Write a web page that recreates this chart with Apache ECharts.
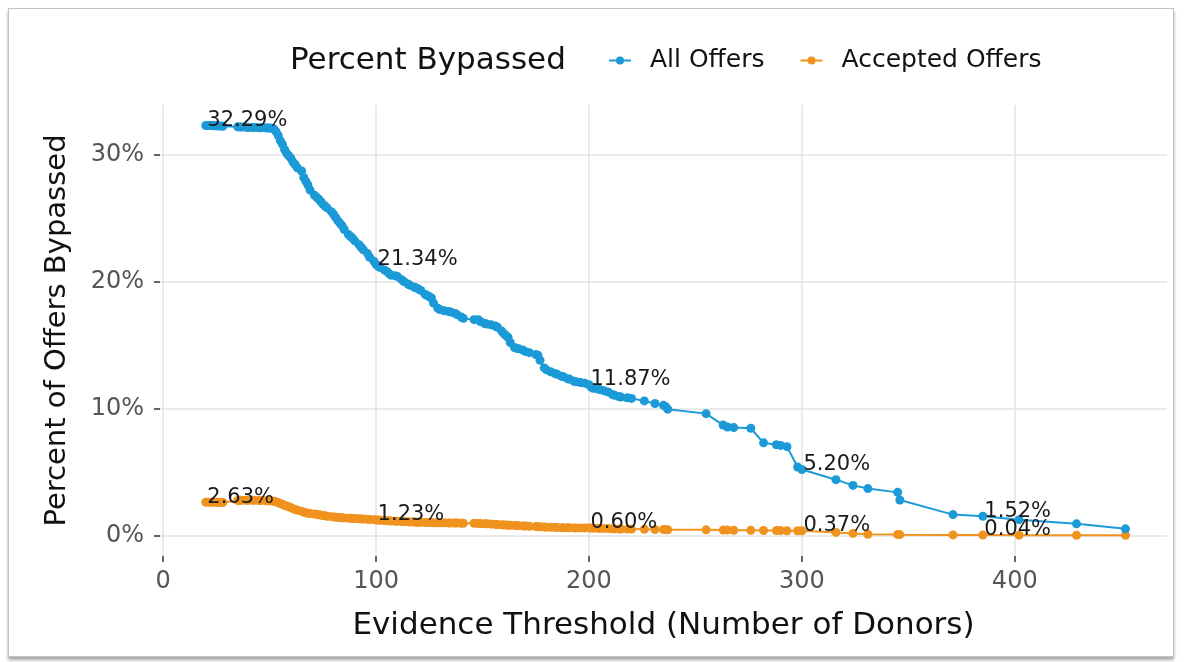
<!DOCTYPE html>
<html>
<head>
<meta charset="utf-8">
<script src="https://cdn.jsdelivr.net/npm/echarts/dist/echarts.min.js"></script>
<style>
  html, body { margin: 0; padding: 0; background: #ffffff; }
  #wrap { position: relative; width: 1188px; height: 662px; overflow: hidden; background: #fff; }
  #frame { position: absolute; left: 8px; top: 8px; width: 1164px; height: 647px;
           border: 1px solid #c4c4c4; box-shadow: 0 3px 3px rgba(0,0,0,0.35); background: #fff; }
  #chart { position: absolute; left: 0; top: 0; width: 1188px; height: 662px; }
</style>
</head>
<body>
<div id="wrap">
  <div id="frame"></div>
  <div id="chart"></div>
</div>
<script>
// Evidence threshold (number of donors)
const thresholds = [
  20, 21, 22, 23, 24, 25, 26, 27, 28,
  35, 36, 37, 39, 40, 42, 43, 45, 46, 48, 49, 50, 51,
  52, 53, 54, 55, 56, 57, 58, 59, 60, 61, 62, 63, 65, 66, 67, 68, 69,
  71, 72, 73, 74, 75, 76, 77, 79, 80, 81, 82, 83, 84, 85, 87, 88, 89, 90,
  92, 93, 94, 96, 97, 99, 100, 101, 102, 104, 105, 106, 107, 109, 110, 112, 113, 115, 116, 118, 119, 120,
  121, 123, 124, 125, 126, 127, 129, 130, 132, 134, 135, 137, 138, 140, 141, 146, 148, 149, 151, 152, 154, 156, 157, 159, 160,
  161, 162, 163, 165, 166, 167, 169, 170, 172, 175, 176, 177, 179, 180, 182, 184, 185, 187, 188, 190, 191, 193, 194, 196, 198, 200,
  201, 202, 204, 205, 207, 209, 211, 212, 214, 215, 218, 220, 226, 231, 235, 236, 237,
  255, 263, 265, 268, 276, 282, 288, 290, 293, 298, 300,
  316, 324, 331, 345, 346, 371, 385, 402, 429, 452
];
// Percent bypassed, all offers
const allOffers = [
  32.29, 32.29, 32.29, 32.28, 32.27, 32.26, 32.25, 32.24, 32.22,
  32.18, 32.17, 32.16, 32.14, 32.13, 32.12, 32.12, 32.11, 32.11, 32.10, 32.09, 32.08, 32.06,
  32.02, 31.80, 31.50, 31.10, 30.80, 30.40, 30.10, 29.90, 29.70, 29.40, 29.20, 28.95, 28.70, 28.20, 27.90, 27.60, 27.20,
  26.80, 26.65, 26.50, 26.30, 26.10, 25.95, 25.80, 25.50, 25.30, 25.05, 24.80, 24.60, 24.40, 24.10, 23.70, 23.55, 23.40, 23.20,
  22.90, 22.70, 22.50, 22.20, 21.90, 21.60, 21.34, 21.20, 21.10, 20.90, 20.80, 20.65, 20.50, 20.45, 20.40, 20.15, 20.00, 19.80, 19.70, 19.55, 19.50, 19.40,
  19.30, 19.00, 18.90, 18.80, 18.70, 18.30, 17.90, 17.80, 17.70, 17.65, 17.60, 17.50, 17.40, 17.20, 17.10, 17.00, 17.00, 16.85, 16.70, 16.65, 16.60, 16.50, 16.40, 16.10, 15.90,
  15.75, 15.60, 15.20, 14.80, 14.75, 14.70, 14.60, 14.50, 14.40, 14.25, 14.20, 13.80, 13.20, 13.05, 12.90, 12.75, 12.70, 12.55, 12.50, 12.35, 12.30, 12.15, 12.10, 12.05, 12.00, 11.87,
  11.70, 11.60, 11.55, 11.50, 11.40, 11.30, 11.10, 11.05, 10.95, 10.90, 10.85, 10.80, 10.60, 10.40, 10.25, 10.15, 9.95,
  9.60, 8.70, 8.55, 8.50, 8.45, 7.30, 7.15, 7.10, 7.00, 5.40, 5.20,
  4.40, 3.95, 3.70, 3.40, 2.80, 1.65, 1.52, 1.25, 0.92, 0.53
];
// Percent bypassed, accepted offers
const acceptedOffers = [
  2.63, 2.63, 2.63, 2.63, 2.62, 2.62, 2.62, 2.61, 2.60,
  2.76, 2.77, 2.78, 2.78, 2.78, 2.77, 2.77, 2.76, 2.76, 2.75, 2.75, 2.74, 2.72,
  2.70, 2.66, 2.60, 2.52, 2.45, 2.38, 2.32, 2.26, 2.20, 2.12, 2.05, 2.00, 1.92, 1.84, 1.80, 1.76, 1.73,
  1.70, 1.67, 1.64, 1.61, 1.58, 1.55, 1.52, 1.49, 1.47, 1.45, 1.43, 1.41, 1.40, 1.39, 1.37, 1.36, 1.35, 1.34,
  1.32, 1.31, 1.30, 1.28, 1.27, 1.25, 1.23, 1.22, 1.20, 1.18, 1.17, 1.16, 1.14, 1.13, 1.12, 1.11, 1.10, 1.08, 1.07, 1.06, 1.05, 1.05,
  1.04, 1.03, 1.03, 1.02, 1.02, 1.01, 1.01, 1.00, 1.00, 0.99, 0.99, 0.98, 0.98, 0.97, 0.97, 0.96, 0.95, 0.94, 0.93, 0.92, 0.90, 0.88, 0.87, 0.85, 0.84,
  0.83, 0.82, 0.81, 0.80, 0.79, 0.78, 0.76, 0.75, 0.73, 0.71, 0.70, 0.69, 0.67, 0.66, 0.65, 0.64, 0.63, 0.62, 0.62, 0.61, 0.61, 0.60, 0.60, 0.60, 0.60, 0.60,
  0.59, 0.58, 0.57, 0.56, 0.55, 0.55, 0.54, 0.53, 0.52, 0.52, 0.51, 0.51, 0.50, 0.48, 0.47, 0.47, 0.46,
  0.45, 0.43, 0.43, 0.42, 0.41, 0.40, 0.39, 0.39, 0.38, 0.38, 0.37,
  0.25, 0.17, 0.10, 0.08, 0.07, 0.05, 0.04, 0.03, 0.02, 0.02
];
// thresholds that carry a value label
const labelThresholds = [20, 100, 200, 300, 385];
const xTicks = [0, 100, 200, 300, 400];
const yTicks = [0, 10, 20, 30];

const FONT = 'DejaVu Sans';
const BLUE = '#1b9ad7';
const ORANGE = '#f0931e';

function pairs(ys) { return thresholds.map((x, i) => [x, ys[i]]); }
function labelPoints(ys) {
  return labelThresholds.map(t => { const i = thresholds.indexOf(t); return [t, ys[i]]; });
}
const labelCfg = {
  show: true,
  formatter: p => p.value[1].toFixed(2) + '%',
  position: [2, 6],
  align: 'left',
  verticalAlign: 'bottom',
  fontFamily: FONT,
  fontSize: 21,
  color: '#1a1a1a',
  opacity: 1
};

const chart = echarts.init(document.getElementById('chart'), null, { renderer: 'canvas' });
chart.setOption({
  animation: false,
  backgroundColor: 'transparent',
  title: {
    text: 'Percent Bypassed',
    left: 285, top: 40,
    textStyle: { fontFamily: FONT, fontSize: 31, fontWeight: 'normal', color: '#111' }
  },
  legend: {
    data: ['All Offers', 'Accepted Offers'],
    left: 603, top: 43,
    itemWidth: 22, itemHeight: 10, itemGap: 35,
    textStyle: { fontFamily: FONT, fontSize: 25, color: '#111', padding: [0, 0, 0, 14] }
  },
  grid: { left: 160, right: 21, top: 105, bottom: 106 },
  xAxis: {
    type: 'value', min: -1.5, max: 471.5,
    name: 'Evidence Threshold (Number of Donors)',
    nameLocation: 'middle', nameGap: 54,
    nameTextStyle: { fontFamily: FONT, fontSize: 31, color: '#111' },
    axisLine: { show: false, onZero: false },
    axisTick: { show: true, customValues: xTicks, length: 6, lineStyle: { color: '#333', width: 1.5 } },
    axisLabel: { customValues: xTicks, margin: 14, fontFamily: FONT, fontSize: 24, color: '#555' },
    splitLine: { show: true, lineStyle: { color: '#e3e3e3', width: 1.5 } }
  },
  yAxis: {
    type: 'value', min: -1.61, max: 33.9,
    name: 'Percent of Offers Bypassed',
    nameLocation: 'middle', nameGap: 88,
    nameTextStyle: { fontFamily: FONT, fontSize: 29, color: '#111' },
    axisLine: { show: false, onZero: false },
    axisTick: { show: true, customValues: yTicks, length: 6, lineStyle: { color: '#333', width: 1.5 } },
    axisLabel: { customValues: yTicks, formatter: v => v + '%', margin: 16, fontFamily: FONT, fontSize: 24, color: '#555' },
    splitLine: { show: true, lineStyle: { color: '#e3e3e3', width: 1.5 } }
  },
  series: [
    {
      name: 'All Offers', type: 'line', data: pairs(allOffers),
      symbol: 'circle', symbolSize: 9, showAllSymbol: true,
      itemStyle: { color: BLUE }, lineStyle: { color: BLUE, width: 2 }, z: 3
    },
    {
      name: 'Accepted Offers', type: 'line', data: pairs(acceptedOffers),
      symbol: 'circle', symbolSize: 9, showAllSymbol: true,
      itemStyle: { color: ORANGE }, lineStyle: { color: ORANGE, width: 2 }, z: 2
    },
    {
      name: 'allLabels', type: 'scatter', data: labelPoints(allOffers),
      symbolSize: 1, itemStyle: { color: 'rgba(0,0,0,0)' }, label: labelCfg, silent: true, z: 10
    },
    {
      name: 'acceptedLabels', type: 'scatter', data: labelPoints(acceptedOffers),
      symbolSize: 1, itemStyle: { color: 'rgba(0,0,0,0)' }, label: labelCfg, silent: true, z: 10
    }
  ]
});
</script>
</body>
</html>
